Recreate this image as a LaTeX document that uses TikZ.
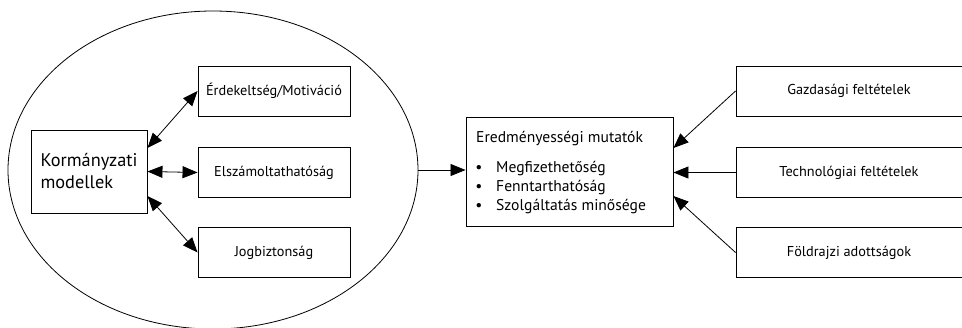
\documentclass[tikz,border=0pt]{standalone}
\usepackage{fontspec}
\setmainfont{PT Sans}
\usetikzlibrary{shapes.geometric,arrows.meta,calc}
\begin{document}
\begin{tikzpicture}[x=1pt,y=-1pt,
  box/.style={draw,line width=0.9pt,minimum width=152pt,minimum height=50pt,inner sep=0pt,font=\fontsize{14.3}{17}\selectfont},
  con/.style={line width=0.8pt},
  tip/.style={-{Triangle[length=15pt,width=12pt]}},
  dtip/.style={{Triangle[length=15pt,width=12pt]}-{Triangle[length=15pt,width=12pt]}},
  txt/.style={inner sep=0pt,font=\fontsize{15.6}{18}\selectfont}]
\useasboundingbox (0,0) rectangle (962,327);
\clip (0,0) rectangle (962,327);
\node[ellipse,draw,line width=0.8pt,minimum width=410pt,minimum height=318pt,inner sep=0pt] (ell) at (213,170) {};
\node[draw,line width=0.9pt,minimum width=116pt,minimum height=83pt,inner sep=0pt,align=left,
  font=\fontsize{18.3}{22}\selectfont] (km) at (89,171.5) {Kormányzati\\modellek};
\node[box] (erd) at (274,91) {Érdekeltség/Motiváció};
\node[box] (elsz) at (274,172.5) {Elszámoltathatóság};
\node[box] (jog) at (274,252.5) {Jogbiztonság};
\draw[con,dtip] ([yshift=23.5pt]km.east) -- (erd.west);
\draw[con,dtip] (km.east) -- (elsz.west);
\draw[con,dtip] ([yshift=-24.5pt]km.east) -- (jog.west);
\node[draw,line width=0.9pt,minimum width=207pt,minimum height=109pt,inner sep=0pt] (eff) at (569.5,171.5) {};
\node[txt,anchor=base west] (t0) at (476,142) {Eredményességi mutatók};
\node[txt,anchor=base] (b1) at (479,172) {•};
\node[txt,anchor=base] (b2) at (479,191) {•};
\node[txt,anchor=base] (b3) at (479,210) {•};
\node[txt,anchor=base west] (t1) at (496,172) {Megfizethetőség};
\node[txt,anchor=base west] (t2) at (496,191) {Fenntarthatóság};
\node[txt,anchor=base west] (t3) at (496,210) {Szolgáltatás minősége};
\draw[con,tip] (ell.east) -- (ell.east -| eff.west);
\node[box,minimum width=226pt] (gaz) at (849,91) {Gazdasági feltételek};
\node[box,minimum width=226pt] (tech) at (849,172.5) {Technológiai feltételek};
\node[box,minimum width=226pt] (fold) at (849,252.5) {Földrajzi adottságok};
\draw[con,tip] (gaz.west) -- ([yshift=23.5pt]eff.east);
\draw[con,tip] (tech.west) -- (tech.west -| eff.east);
\draw[con,tip] (fold.west) -- ([yshift=-24.5pt]eff.east);
\end{tikzpicture}
\end{document}
